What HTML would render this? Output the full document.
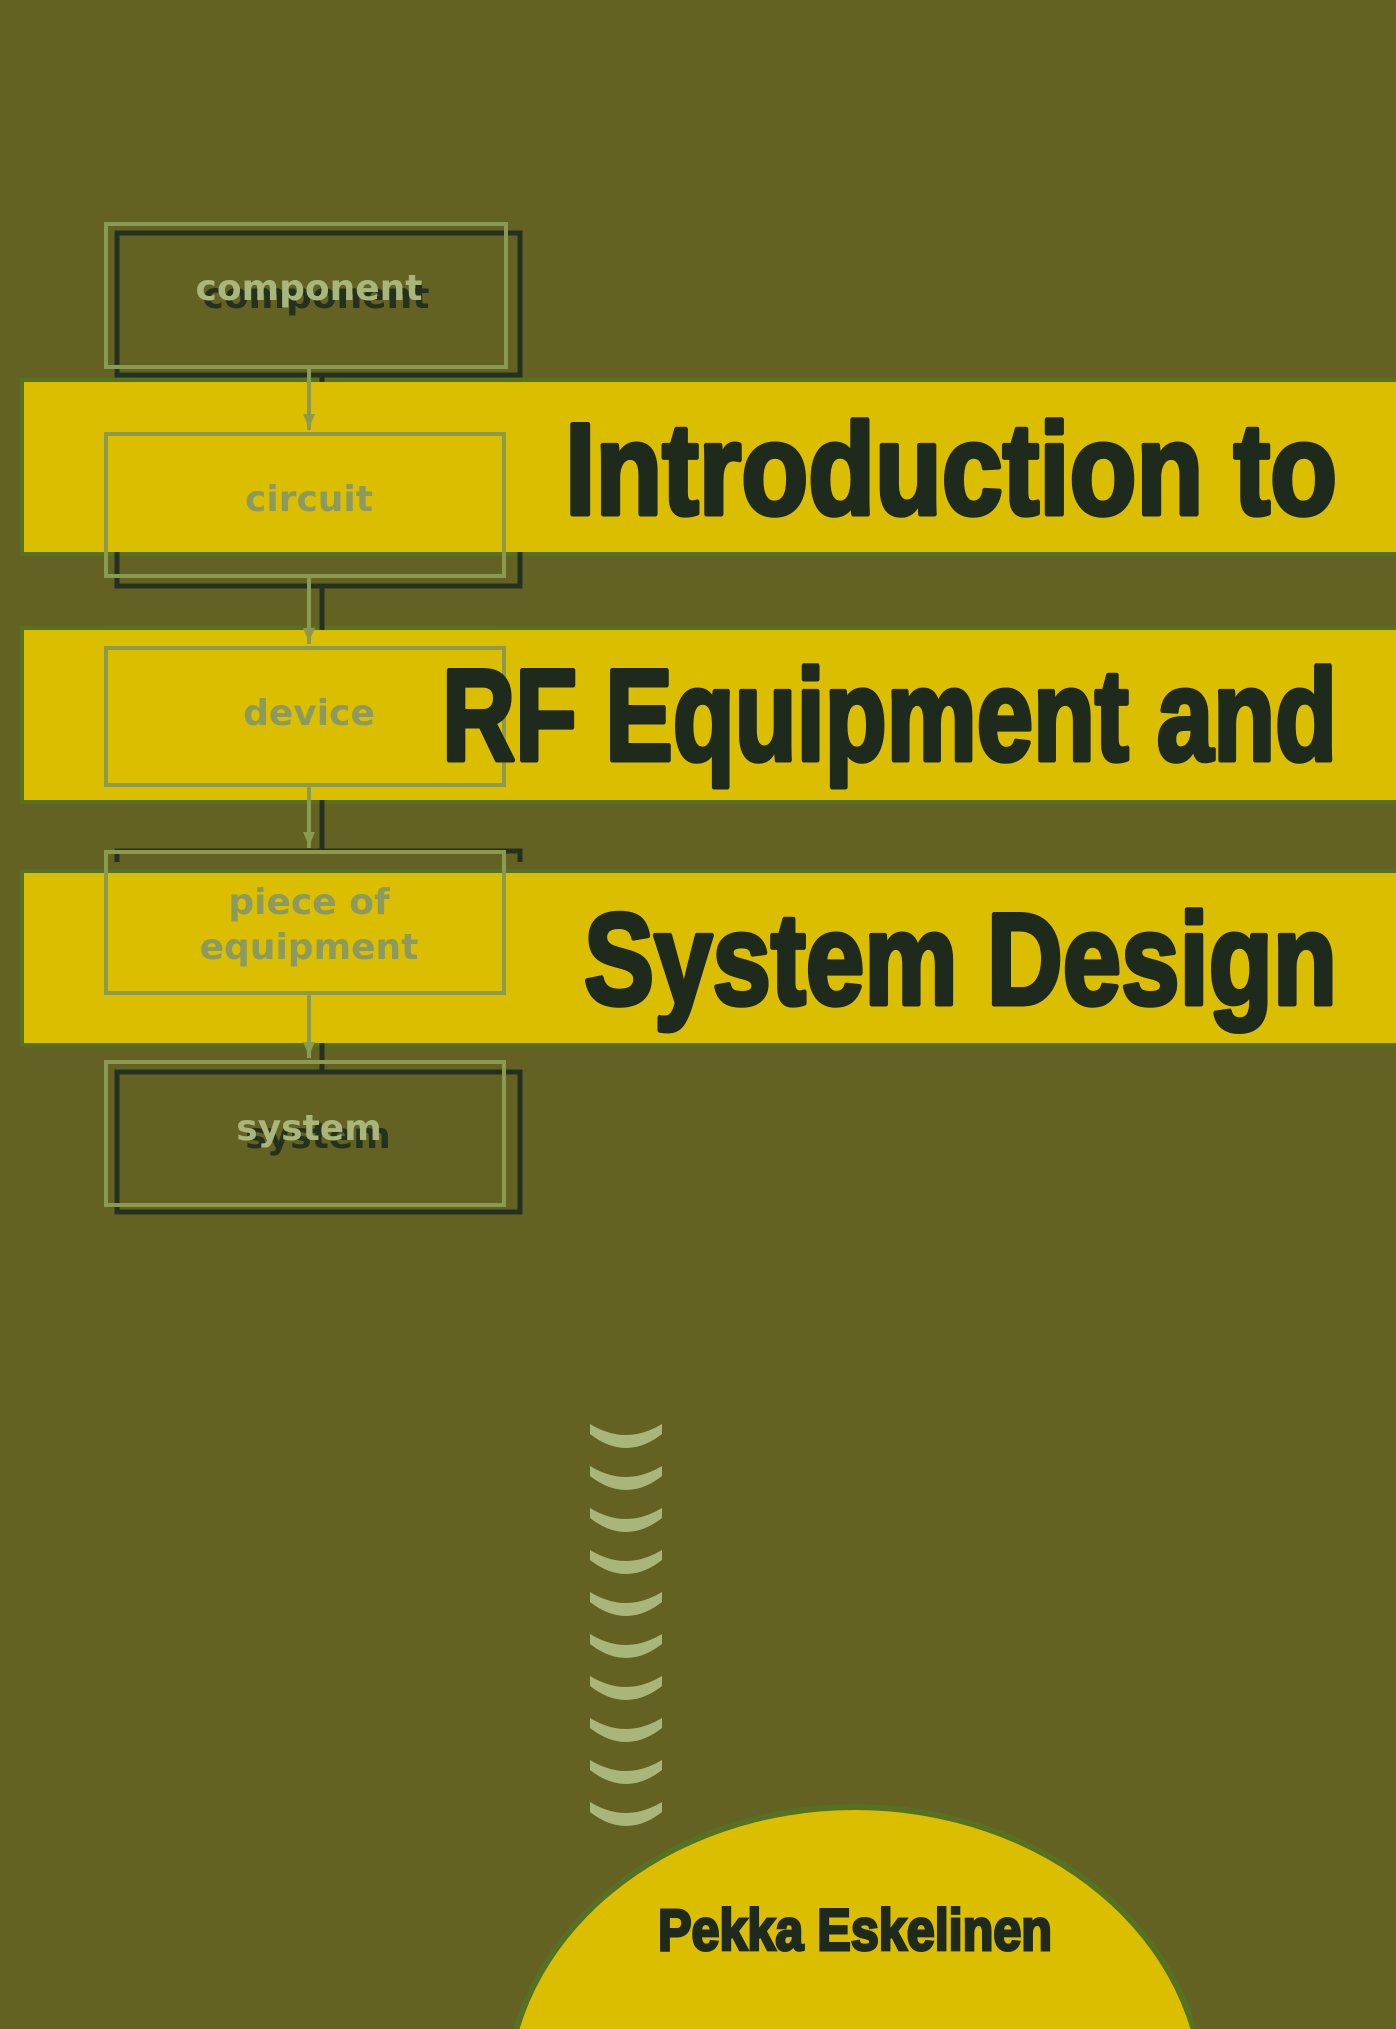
<!DOCTYPE html>
<html><head><meta charset="utf-8"><style>
html,body{margin:0;padding:0;background:#646223;overflow:hidden;width:1396px;height:2029px}
svg{display:block}
</style></head><body>
<svg width="1396" height="2029" viewBox="0 0 1396 2029" xmlns="http://www.w3.org/2000/svg">
<rect width="1396" height="2029" fill="#646223"/>
<rect x="20" y="378" width="1376" height="178" fill="#547222"/>
<rect x="24" y="382" width="1372" height="170" fill="#dcbe00"/>
<rect x="20" y="626" width="1376" height="178" fill="#547222"/>
<rect x="24" y="630" width="1372" height="170" fill="#dcbe00"/>
<rect x="20" y="869" width="1376" height="178" fill="#547222"/>
<rect x="24" y="873" width="1372" height="170" fill="#dcbe00"/>
<g fill="none" stroke="#243020" stroke-width="5">
<rect x="117" y="233" width="403" height="142"/>
<polyline points="117,552 117,586 520,586 520,552"/>
<polyline points="117,862 117,851 520,851 520,862"/>
<rect x="117" y="1072" width="403" height="140"/>
<line x1="322" y1="375" x2="322" y2="382"/>
<line x1="322" y1="586" x2="322" y2="630"/>
<line x1="322" y1="800" x2="322" y2="851"/>
<line x1="322" y1="1043" x2="322" y2="1072"/>
</g>
<g fill="none" stroke="#8a9a50" stroke-width="4">
<rect x="106" y="224" width="400" height="143"/>
<rect x="106" y="434" width="398" height="142"/>
<rect x="106" y="648" width="398" height="137"/>
<rect x="106" y="852" width="398" height="141"/>
<rect x="106" y="1062" width="398" height="143"/>
<line x1="309" y1="367" x2="309" y2="430"/>
<line x1="309" y1="576" x2="309" y2="644"/>
<line x1="309" y1="785" x2="309" y2="848"/>
<line x1="309" y1="993" x2="309" y2="1058"/>
</g>
<g fill="#8a9a50">
<polygon points="303,414 315,414 309,428"/>
<polygon points="303,628 315,628 309,642"/>
<polygon points="303,832 315,832 309,846"/>
<polygon points="303,1042 315,1042 309,1056"/>
</g>
<g font-family="'DejaVu Sans', 'Liberation Sans', sans-serif" text-anchor="middle" font-size="36" font-weight="bold">
<text x="316" y="308" fill="#243020">component</text>
<text x="309" y="300" fill="#a9b67a">component</text>
<text x="309" y="511" fill="#8a9a60">circuit</text>
<text x="309" y="725" fill="#8a9a60">device</text>
<text x="309" y="914" fill="#8a9a60">piece of</text>
<text x="309" y="959" fill="#8a9a60">equipment</text>
<text x="318" y="1148" fill="#243020">system</text>
<text x="309" y="1140" fill="#a9b67a">system</text>
</g>
<g font-family="'Liberation Sans',sans-serif" font-weight="bold" fill="#1e2a1c" stroke="#1e2a1c" stroke-width="5" stroke-linejoin="round" font-size="130">
<text x="565" y="514" textLength="772" lengthAdjust="spacingAndGlyphs">Introduction to</text>
<text x="442" y="760" textLength="895" lengthAdjust="spacingAndGlyphs">RF Equipment and</text>
<text x="584" y="1004" textLength="753" lengthAdjust="spacingAndGlyphs">System Design</text>
</g>
<g fill="#a9b67a">
<path id="c" d="M590,1424 Q626,1446 662,1424 L662,1434 Q626,1462 590,1434 Z"/>
<use href="#c" y="42"/><use href="#c" y="84"/><use href="#c" y="126"/><use href="#c" y="168"/>
<use href="#c" y="210"/><use href="#c" y="252"/><use href="#c" y="294"/><use href="#c" y="336"/><use href="#c" y="378"/>
</g>
<ellipse cx="855" cy="2100" rx="352" ry="296" fill="#547222"/>
<ellipse cx="855" cy="2100" rx="346" ry="290" fill="#dcbe00"/>
<text x="658" y="1950" textLength="394" lengthAdjust="spacingAndGlyphs" font-family="'Liberation Sans',sans-serif" font-weight="bold" font-size="58" fill="#1e2a1c" stroke="#1e2a1c" stroke-width="3">Pekka Eskelinen</text>
</svg>
</body></html>
